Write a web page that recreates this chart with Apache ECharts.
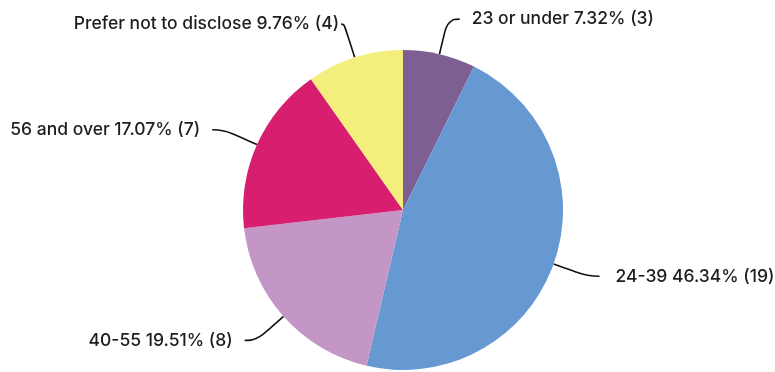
<!DOCTYPE html>
<html>
<head>
<meta charset="utf-8">
<script src="https://cdn.jsdelivr.net/npm/echarts@6/dist/echarts.min.js"></script>
<style>
  html, body { margin: 0; padding: 0; background: #fff; }
  #chart { width: 775px; height: 372px; }
</style>
</head>
<body>
<div id="chart"></div>
<script>
// Age groups of respondents, clockwise from the top
const categories = ['23 or under', '24-39', '40-55', '56 and over', 'Prefer not to disclose'];
const counts = [3, 19, 8, 7, 4];
const colors = ['#7e5f93', '#6699d1', '#c396c6', '#d81e6f', '#f4ef7d'];

// Per-slice tweaks of the leader lines and label gaps
const lineTweaks = {
  '24-39': { label: { distanceToLabelLine: 16 } },
  'Prefer not to disclose': {
    label: { distanceToLabelLine: 2 },
    labelLine: { length: 35, length2: 3 }
  }
};

const chart = echarts.init(document.getElementById('chart'));
chart.setOption({
  animation: false,
  series: [{
    type: 'pie',
    center: [403, 210],
    radius: 160,
    startAngle: 90,
    clockwise: true,
    percentPrecision: 2,
    data: categories.map((name, i) => Object.assign({
      name,
      value: counts[i],
      itemStyle: { color: colors[i] }
    }, lineTweaks[name] || {})),
    label: {
      show: true,
      formatter: '{b} {d}% ({c})',
      fontFamily: 'Inter',
      fontSize: 17.5,
      fontWeight: 500,
      color: '#1d1d1d',
      overflow: 'none',
      distanceToLabelLine: 12
    },
    labelLine: {
      show: true,
      length: 36,
      length2: 12,
      smooth: 0.5,
      lineStyle: { color: '#111', width: 1.6 }
    }
  }]
});
</script>
</body>
</html>
